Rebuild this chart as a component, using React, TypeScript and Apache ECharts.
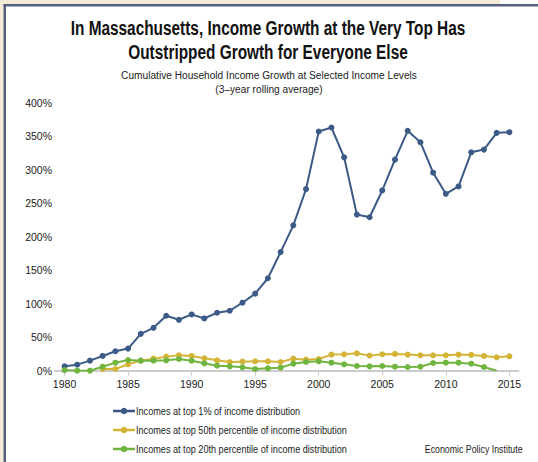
import React, { useEffect, useRef } from "react";
import * as echarts from "echarts";

const years = [
  1980, 1981, 1982, 1983, 1984, 1985, 1986, 1987, 1988, 1989,
  1990, 1991, 1992, 1993, 1994, 1995, 1996, 1997, 1998, 1999,
  2000, 2001, 2002, 2003, 2004, 2005, 2006, 2007, 2008, 2009,
  2010, 2011, 2012, 2013, 2014, 2015,
];

const top1 = [
  6.6, 9, 15, 22, 29, 33, 55, 64, 82, 76,
  84, 78, 86.5, 89.5, 101.5, 115, 138, 177, 217, 271,
  357, 363, 318.5, 233, 229, 269, 315, 358, 341, 295.5,
  264, 275, 326, 330, 355, 356,
];

const top50 = [
  null, null, null, 2.5, 2.5, 9.5, 15, 18, 21, 23,
  22, 18.5, 15.5, 13, 13.5, 14, 14, 13, 18, 16.5,
  17.5, 24, 24.5, 26, 22.5, 24.5, 25, 24, 23, 23,
  23, 24, 23.5, 22, 20, 21.5,
];

const top20 = [
  1, 0, 0, 6, 12, 16, 15, 15, 15.5, 17.5,
  15, 11, 7.5, 6.5, 5, 2.5, 3.5, 4.5, 10.5, 13,
  14, 12, 9.5, 7, 6.5, 7, 6, 5.5, 6, 11.5,
  12, 12, 10.5, 5.5, 0, null,
];

const hiddenMarkerYears = [2014];

const xTickValues = [1980, 1985, 1990, 1995, 2000, 2005, 2010, 2015];
const yTickValues = [0, 50, 100, 150, 200, 250, 300, 350, 400];

const seriesNames = [
  "Incomes at top 1% of income distribution",
  "Incomes at top 50th percentile of income distribution",
  "Incomes at top 20th percentile of income distribution",
];
const seriesColors = ["#3c5a87", "#d4b436", "#6fb53f"];

const titleLines = [
  "In Massachusetts, Income Growth at the Very Top Has",
  "Outstripped Growth for Everyone Else",
];
const subtitleLines = [
  "Cumulative Household Income Growth at Selected Income Levels",
  "(3–year rolling average)",
];
const sourceText = "Economic Policy Institute";

const FONT = "'Liberation Sans', Arial, sans-serif";

let measureCtx: CanvasRenderingContext2D | null = null;
function textWidth(text: string, font: string) {
  if (!measureCtx) measureCtx = document.createElement("canvas").getContext("2d");
  if (!measureCtx) return 1;
  measureCtx.font = font;
  return measureCtx.measureText(text).width || 1;
}

function toPairs(vals: (number | null)[], hideSome: boolean) {
  return years.map((y, i) => {
    const v = vals[i];
    if (v === null || v === undefined) return [y, null];
    if (hideSome && hiddenMarkerYears.includes(y)) {
      return { value: [y, v], symbol: "none" };
    }
    return [y, v];
  });
}

function narrowText(
  text: string,
  x: number,
  y: number,
  size: number,
  weight: string,
  align: string,
  scale: number,
  fill = "#222222"
) {
  return {
    type: "text",
    x,
    y,
    scaleX: scale,
    silent: true,
    style: {
      text,
      x: 0,
      y: 0,
      font: `${weight} ${size}px ${FONT}`,
      textAlign: align,
      textVerticalAlign: "middle",
      fill,
    },
  };
}

export default function App() {
  const ref = useRef<HTMLDivElement>(null);

  useEffect(() => {
    document.body.style.margin = "0";
    if (!ref.current) return;
    const chart = echarts.init(ref.current, null, { renderer: "svg" });
    const allVals = [top1, top50, top20];

    const titleFont = `bold 20px ${FONT}`;
    const subFont = `normal 11.5px ${FONT}`;
    const smallFont = `normal 11px ${FONT}`;
    const titleScale = 395 / textWidth(titleLines[0], titleFont);
    const subScale = 296 / textWidth(subtitleLines[0], subFont);
    const legendScale = 211 / textWidth(seriesNames[1], smallFont);
    const srcScale = 98 / textWidth(sourceText, smallFont);

    const legendRows = [411, 430, 449];
    const legendGraphics: any[] = [];
    seriesNames.forEach((name, i) => {
      const ly = legendRows[i];
      legendGraphics.push({
        type: "line",
        silent: true,
        shape: { x1: 113, y1: ly, x2: 135, y2: ly },
        style: { stroke: seriesColors[i], lineWidth: 2.5 },
      });
      legendGraphics.push({
        type: "circle",
        silent: true,
        shape: { cx: 124, cy: ly, r: 3.3 },
        style: { fill: seriesColors[i] },
      });
      legendGraphics.push(narrowText(name, 136, ly, 11, "normal", "left", legendScale));
    });

    chart.setOption({
      animation: false,
      backgroundColor: "#ffffff",
      textStyle: { fontFamily: FONT },
      grid: { left: 55, top: 102.7, width: 463.4, height: 268, containLabel: false },
      xAxis: {
        type: "value",
        min: 1979.25,
        max: 2015.71,
        splitLine: { show: false },
        axisLine: { show: true, lineStyle: { color: "#cbcbcb", width: 2 } },
        axisTick: {
          show: true,
          customValues: xTickValues,
          length: 5,
          lineStyle: { color: "#cbcbcb", width: 1 },
        },
        axisLabel: {
          customValues: xTickValues,
          fontFamily: FONT,
          fontSize: 10.5,
          color: "#222222",
          margin: 8,
          formatter: (v: number) => String(v),
        },
      },
      yAxis: {
        type: "value",
        min: 0,
        max: 400,
        interval: 50,
        splitLine: { show: false },
        axisLine: { show: false },
        axisTick: { show: false },
        axisLabel: {
          fontFamily: FONT,
          fontSize: 10.5,
          color: "#222222",
          margin: 3,
          formatter: (v: number) => (yTickValues.includes(v) ? v + "%" : ""),
        },
      },
      series: seriesNames.map((name, i) => ({
        name,
        type: "line",
        data: toPairs(allVals[i], i === 2),
        symbol: "circle",
        symbolSize: 6,
        showSymbol: true,
        connectNulls: false,
        lineStyle: { color: seriesColors[i], width: 2 },
        itemStyle: { color: seriesColors[i] },
        emphasis: { disabled: true },
        z: 2 + i,
      })),
      graphic: [
        { type: "rect", silent: true, shape: { x: 0, y: 0, width: 500, height: 4 }, style: { fill: "#f3ebd7" } },
        { type: "rect", silent: true, shape: { x: 0, y: 0, width: 3.5, height: 462 }, style: { fill: "#f3ebd7" } },
        { type: "rect", silent: true, shape: { x: 3.5, y: 4, width: 534.5, height: 2.5 }, style: { fill: "#56617d" } },
        { type: "rect", silent: true, shape: { x: 3.5, y: 4, width: 2.5, height: 458 }, style: { fill: "#56617d" } },
        narrowText(titleLines[0], 268, 28, 20, "bold", "center", titleScale, "#111111"),
        narrowText(titleLines[1], 268, 52, 20, "bold", "center", titleScale, "#111111"),
        narrowText(subtitleLines[0], 269, 75, 11.5, "normal", "center", subScale),
        narrowText(subtitleLines[1], 269, 88.5, 11.5, "normal", "center", subScale),
        ...legendGraphics,
        narrowText(sourceText, 522.6, 449, 11, "normal", "right", srcScale),
      ],
    });

    return () => chart.dispose();
  }, []);

  return <div ref={ref} style={{ width: 538, height: 462 }} />;
}
